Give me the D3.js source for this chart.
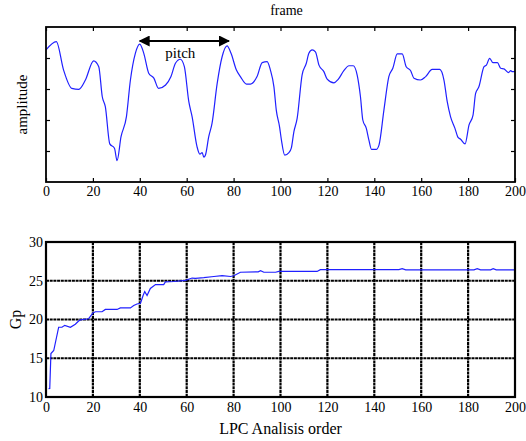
<!DOCTYPE html>
<html>
<head>
<meta charset="utf-8">
<script src="https://cdn.jsdelivr.net/npm/d3@7"></script>
<style>
  html, body { margin: 0; padding: 0; background: #fff; }
  text { font-family: "Liberation Serif", "Times New Roman", serif; fill: #000; }
</style>
</head>
<body>
<svg id="chart" width="526" height="441"></svg>
<script>
// ---- Data ----
const frameX = [0, 4.4, 7.5, 11, 14, 16.8, 20.3, 22.5, 24, 25.3, 27.2, 29.2, 30.3, 32, 34.3, 36, 38.1, 40, 41.7, 43.8, 46, 48, 51, 53.3, 55.2, 57.3, 59, 60.9, 62.3, 64.4, 65.6, 66.6, 67.3, 68, 69.4, 70.8, 73, 75.1, 77.2, 78.9, 81.2, 82.9, 85.5, 87.2, 90, 92.2, 94.3, 95.7, 97.2, 98.2, 99.6, 100.4, 101.8, 103.6, 104.6, 105.7, 107.1, 109.2, 111, 112.1, 113.5, 114.9, 116.4, 118.5, 119.9, 122.8, 124.6, 127, 129.2, 131, 132.7, 134.1, 135.1, 136.6, 137.7, 138.8, 140.8, 142, 144.1, 146.2, 147.9, 149.8, 151.9, 153.6, 155.5, 156.9, 159.7, 161.9, 164.7, 167.9, 169.7, 171.1, 172.5, 174.4, 175.7, 176.8, 178.7, 180.4, 182.1, 183.2, 184.6, 186.8, 187.8, 189.2, 190.6, 192.5, 193.9, 195.3, 197.2, 198.2, 198.9, 200];
const frameY = [4.26, 4.53, 3.61, 3.02, 2.99, 3.29, 3.91, 3.72, 2.75, 2.43, 1.23, 1.09, 0.69, 1.46, 2.11, 3.29, 4.15, 4.45, 4.15, 3.51, 3.35, 3.02, 3.13, 3.40, 3.83, 3.96, 3.72, 2.59, 2.11, 1.14, 0.90, 0.95, 0.80, 0.87, 1.46, 1.89, 3.18, 4.04, 4.39, 4.15, 3.61, 3.40, 3.16, 3.16, 3.40, 3.85, 3.88, 3.61, 3.07, 2.32, 1.78, 1.35, 0.87, 0.95, 1.09, 1.62, 2.05, 3.45, 3.83, 4.15, 4.26, 4.20, 3.77, 3.56, 3.32, 3.20, 3.31, 3.59, 3.75, 3.75, 3.45, 2.75, 2.00, 1.73, 1.35, 1.05, 1.05, 1.19, 2.32, 3.40, 3.67, 4.13, 4.13, 3.72, 3.59, 3.35, 3.29, 3.40, 3.63, 3.63, 3.29, 2.59, 2.11, 1.73, 1.44, 1.38, 1.23, 1.84, 2.16, 2.86, 3.07, 3.72, 3.77, 3.99, 3.85, 3.85, 3.67, 3.65, 3.53, 3.59, 3.56, 3.57];

const gpX = [1.1, 1.6, 2.1, 3.3, 5.4, 6.8, 8, 10.4, 12.5, 13.9, 14.6, 18.2, 20, 21.1, 23.9, 25.3, 30.3, 31.7, 36, 37.4, 38.8, 40.3, 41.4, 42.1, 43.1, 44.5, 46.7, 50.2, 50.9, 54.5, 59.5, 62.3, 63.7, 67.3, 71.6, 75.1, 78.7, 80.1, 82.9, 90.5, 91.5, 92.9, 97.9, 99.3, 115.6, 117, 150.5, 151.9, 153.4, 182.5, 183.9, 185.3, 189.6, 190.7, 192, 200];
const gpY = [11.08, 11.1, 15.6, 16.0, 19.0, 19.0, 19.25, 19.0, 19.4, 19.8, 19.95, 20.1, 20.85, 21.0, 21.0, 21.3, 21.3, 21.5, 21.5, 21.8, 22.0, 22.1, 23.1, 23.6, 23.1, 24.0, 24.5, 24.5, 24.85, 24.9, 25.05, 25.35, 25.3, 25.4, 25.55, 25.65, 25.55, 25.65, 26.1, 26.15, 26.3, 26.1, 26.1, 26.2, 26.2, 26.43, 26.43, 26.55, 26.4, 26.4, 26.55, 26.4, 26.4, 26.55, 26.4, 26.4];

const xTicks = [0, 20, 40, 60, 80, 100, 120, 140, 160, 180, 200];
const ampTicks = [1, 2, 3, 4];
const gpTicks = [10, 15, 20, 25, 30];
const pitchRange = [40, 78];

// ---- Layout ----
const svg = d3.select("#chart");
const L = 46, R = 515;
const top1 = 27, bot1 = 182;
const top2 = 242, bot2 = 397;

const x = d3.scaleLinear().domain([0, 200]).range([L, R]);
const y1 = d3.scaleLinear().domain([0, 5]).range([bot1, top1]);
const y2 = d3.scaleLinear().domain([10, 30]).range([bot2, top2]);

const blue = "#2020ff";
const FS = "14px";

// ===== Top panel =====
const g1 = svg.append("g");
g1.append("g").attr("transform", `translate(0,${bot1})`)
  .call(d3.axisTop(x).tickValues(xTicks).tickSize(4).tickFormat(""))
  .call(a => a.select(".domain").remove());
g1.append("g").attr("transform", `translate(0,${top1})`)
  .call(d3.axisBottom(x).tickValues(xTicks).tickSize(4).tickFormat(""))
  .call(a => a.select(".domain").remove());
g1.append("g").attr("transform", `translate(${L},0)`)
  .call(d3.axisRight(y1).tickValues(ampTicks).tickSize(4).tickFormat(""))
  .call(a => a.select(".domain").remove());
g1.append("g").attr("transform", `translate(${R},0)`)
  .call(d3.axisLeft(y1).tickValues(ampTicks).tickSize(4).tickFormat(""))
  .call(a => a.select(".domain").remove());
g1.selectAll(".tick line").attr("stroke", "#000").attr("stroke-width", 1.2);
g1.append("g").attr("transform", `translate(0,${bot1})`)
  .call(d3.axisBottom(x).tickValues(xTicks).tickSize(0).tickPadding(4))
  .call(a => a.select(".domain").remove())
  .selectAll("text").style("font-family", "Liberation Serif, serif").style("font-size", FS);

const line1 = d3.line().x((d, i) => x(frameX[i])).y((d, i) => y1(frameY[i])).curve(d3.curveMonotoneX);
g1.append("path").datum(frameY).attr("d", line1)
  .attr("fill", "none").attr("stroke", blue).attr("stroke-width", 1.2);

g1.append("rect").attr("x", L).attr("y", top1).attr("width", R - L).attr("height", bot1 - top1)
  .attr("fill", "none").attr("stroke", "#000").attr("stroke-width", 1.8);

const defs = svg.append("defs");
defs.append("marker").attr("id", "ah").attr("viewBox", "0 0 10 10")
  .attr("refX", 9).attr("refY", 5).attr("markerWidth", 5).attr("markerHeight", 5)
  .attr("orient", "auto-start-reverse")
  .append("path").attr("d", "M0,0 L10,5 L0,10 Z").attr("fill", "#000");
g1.append("line").attr("x1", x(pitchRange[0])).attr("x2", x(pitchRange[1]))
  .attr("y1", 41).attr("y2", 41).attr("stroke", "#000").attr("stroke-width", 2.2)
  .attr("marker-start", "url(#ah)").attr("marker-end", "url(#ah)");
g1.append("text").attr("x", (x(pitchRange[0]) + x(pitchRange[1])) / 2 - 4).attr("y", 58)
  .attr("text-anchor", "middle").style("font-size", "15px").text("pitch");

g1.append("text").attr("x", (L + R) / 2 + 6).attr("y", 15).attr("text-anchor", "middle")
  .style("font-size", "14px").text("frame");
g1.append("text").attr("transform", `translate(27,${(top1 + bot1) / 2}) rotate(-90)`)
  .attr("text-anchor", "middle").style("font-size", "15px").text("amplitude");

// ===== Bottom panel =====
const g2 = svg.append("g");
g2.append("g").selectAll("line.v").data(xTicks.slice(1, -1)).join("line")
  .attr("x1", d => x(d)).attr("x2", d => x(d)).attr("y1", top2).attr("y2", bot2)
  .attr("stroke", "#000").attr("stroke-width", 2.2).attr("stroke-dasharray", "3,0.7");
g2.append("g").selectAll("line.h").data(gpTicks.slice(1, -1)).join("line")
  .attr("x1", L).attr("x2", R).attr("y1", d => y2(d)).attr("y2", d => y2(d))
  .attr("stroke", "#000").attr("stroke-width", 2.2).attr("stroke-dasharray", "3,0.7");

const line2 = d3.line().x((d, i) => x(gpX[i])).y((d, i) => y2(gpY[i]));
g2.append("path").datum(gpY).attr("d", line2)
  .attr("fill", "none").attr("stroke", blue).attr("stroke-width", 1.2);

g2.append("rect").attr("x", L).attr("y", top2).attr("width", R - L).attr("height", bot2 - top2)
  .attr("fill", "none").attr("stroke", "#000").attr("stroke-width", 2.2);

g2.append("g").attr("transform", `translate(0,${bot2})`)
  .call(d3.axisBottom(x).tickValues(xTicks).tickSize(0).tickPadding(5))
  .call(a => a.select(".domain").remove())
  .selectAll("text").style("font-family", "Liberation Serif, serif").style("font-size", FS);
g2.append("g").attr("transform", `translate(${L},0)`)
  .call(d3.axisLeft(y2).tickValues(gpTicks).tickSize(0).tickPadding(3))
  .call(a => a.select(".domain").remove())
  .selectAll("text").style("font-family", "Liberation Serif, serif").style("font-size", FS);

g2.append("text").attr("x", (L + R) / 2).attr("y", 434).attr("text-anchor", "middle")
  .style("font-size", "16px").text("LPC Analisis order");
g2.append("text").attr("transform", `translate(21,${(top2 + bot2) / 2}) rotate(-90)`)
  .attr("text-anchor", "middle").style("font-size", "16px").text("Gp");
</script>
</body>
</html>
